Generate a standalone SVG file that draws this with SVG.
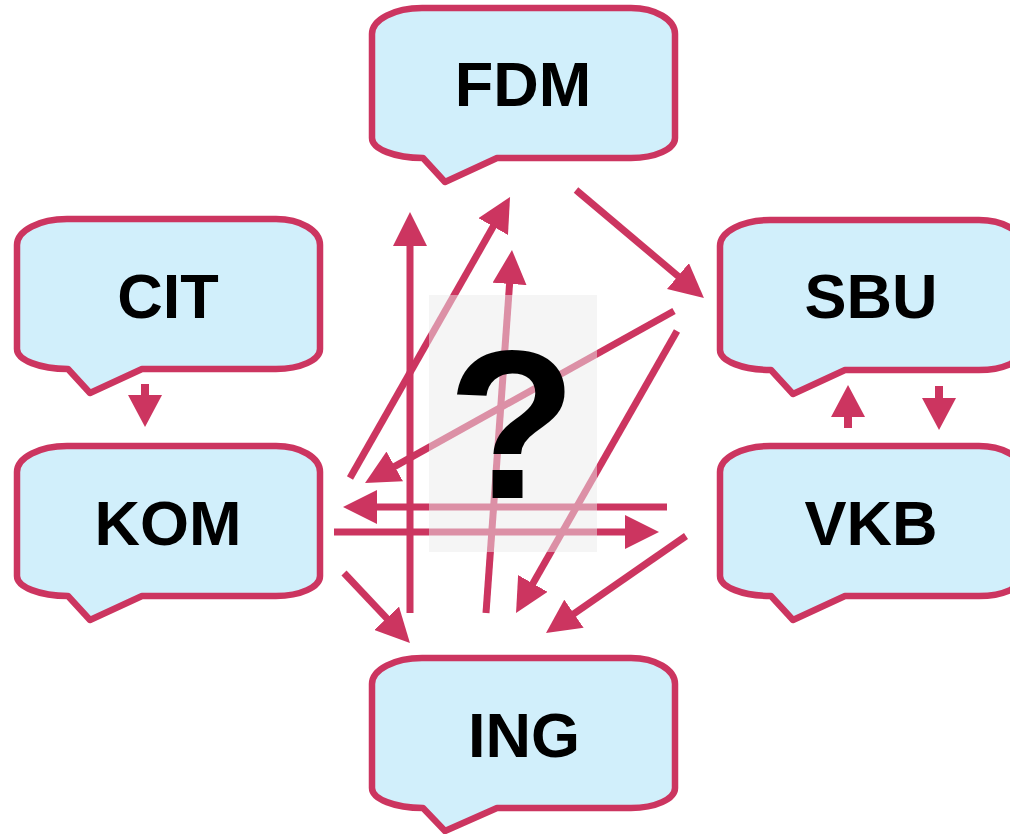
<svg xmlns="http://www.w3.org/2000/svg" width="1010" height="834" viewBox="0 0 1010 834">
<style>
.bub{fill:#d1effb;stroke:#cc3560;stroke-width:6.5;stroke-linejoin:round}
.lbl{font-family:"Liberation Sans",Arial,sans-serif;font-weight:bold;font-size:63px;fill:#000;text-anchor:middle}
.arr{stroke:#cc3560;stroke-width:7;fill:none}
.sarr{stroke:#cc3560;stroke-width:8;fill:none}
</style>
<defs>
<marker id="ah" markerUnits="userSpaceOnUse" markerWidth="34" markerHeight="34" refX="2" refY="17" orient="auto" viewBox="0 0 34 34">
<path d="M0,0 L34,17 L0,34 Z" fill="#cc3560"/>
</marker>
<marker id="sah" markerUnits="userSpaceOnUse" markerWidth="32" markerHeight="34" refX="2" refY="17" orient="auto" viewBox="0 0 32 34">
<path d="M0,0 L32,17 L0,34 Z" fill="#cc3560"/>
</marker>
</defs>
<g id="connectors">
<line class="arr" x1="410" y1="613" x2="410" y2="244" marker-end="url(#ah)"/>
<line class="arr" x1="350" y1="478" x2="494.2" y2="224.8" marker-end="url(#ah)"/>
<line class="arr" x1="486" y1="613" x2="509.7" y2="281.9" marker-end="url(#ah)"/>
<line class="arr" x1="576" y1="190" x2="679.5" y2="277.4" marker-end="url(#ah)"/>
<line class="arr" x1="674" y1="311" x2="393" y2="467.4" marker-end="url(#ah)"/>
<line class="arr" x1="677" y1="331" x2="531.9" y2="585.2" marker-end="url(#ah)"/>
<line class="arr" x1="667" y1="507" x2="375" y2="507" marker-end="url(#ah)"/>
<line class="arr" x1="334" y1="532" x2="627" y2="532" marker-end="url(#ah)"/>
<line class="arr" x1="344" y1="573" x2="388" y2="619.7" marker-end="url(#ah)"/>
<line class="arr" x1="686" y1="536" x2="572.3" y2="614.8" marker-end="url(#ah)"/>
<line class="sarr" x1="145" y1="384" x2="145" y2="397" marker-end="url(#sah)"/>
<line class="sarr" x1="848" y1="428" x2="848" y2="415" marker-end="url(#sah)"/>
<line class="sarr" x1="939" y1="386" x2="939" y2="400" marker-end="url(#sah)"/>
</g>
<g id="question">
<rect x="429" y="295" width="168" height="257" fill="#ececec" opacity="0.5"/>
<text x="512" y="498" font-family="'Liberation Sans',Arial,sans-serif" font-weight="bold" font-size="212" text-anchor="middle" fill="#000">?</text>
</g>
<g id="FDM">
<path class="bub" d="M422,8 H631 A44 26 0 0 1 675,34 V138 A44 20 0 0 1 631,158 H497 L445,182 L423,158 A51 20 0 0 1 372,138 V34 A50 26 0 0 1 422,8 Z"/>
<text class="lbl" x="523" y="106">FDM</text>
</g>
<g id="CIT">
<path class="bub" d="M67,219 H276 A44 26 0 0 1 320,245 V349 A44 20 0 0 1 276,369 H142 L90,393 L68,369 A51 20 0 0 1 17,349 V245 A50 26 0 0 1 67,219 Z"/>
<text class="lbl" x="168" y="318">CIT</text>
</g>
<g id="KOM">
<path class="bub" d="M67,446 H276 A44 26 0 0 1 320,472 V576 A44 20 0 0 1 276,596 H142 L90,620 L68,596 A51 20 0 0 1 17,576 V472 A50 26 0 0 1 67,446 Z"/>
<text class="lbl" x="168" y="545">KOM</text>
</g>
<g id="SBU">
<path class="bub" d="M770,220 H979 A44 26 0 0 1 1023,246 V350 A44 20 0 0 1 979,370 H845 L793,394 L771,370 A51 20 0 0 1 720,350 V246 A50 26 0 0 1 770,220 Z"/>
<text class="lbl" x="871" y="318">SBU</text>
</g>
<g id="VKB">
<path class="bub" d="M770,446 H979 A44 26 0 0 1 1023,472 V576 A44 20 0 0 1 979,596 H845 L793,620 L771,596 A51 20 0 0 1 720,576 V472 A50 26 0 0 1 770,446 Z"/>
<text class="lbl" x="871" y="545">VKB</text>
</g>
<g id="ING">
<path class="bub" d="M422,658 H631 A44 26 0 0 1 675,684 V788 A44 20 0 0 1 631,808 H497 L445,831 L423,808 A51 20 0 0 1 372,788 V684 A50 26 0 0 1 422,658 Z"/>
<text class="lbl" x="524" y="757">ING</text>
</g>
</svg>
